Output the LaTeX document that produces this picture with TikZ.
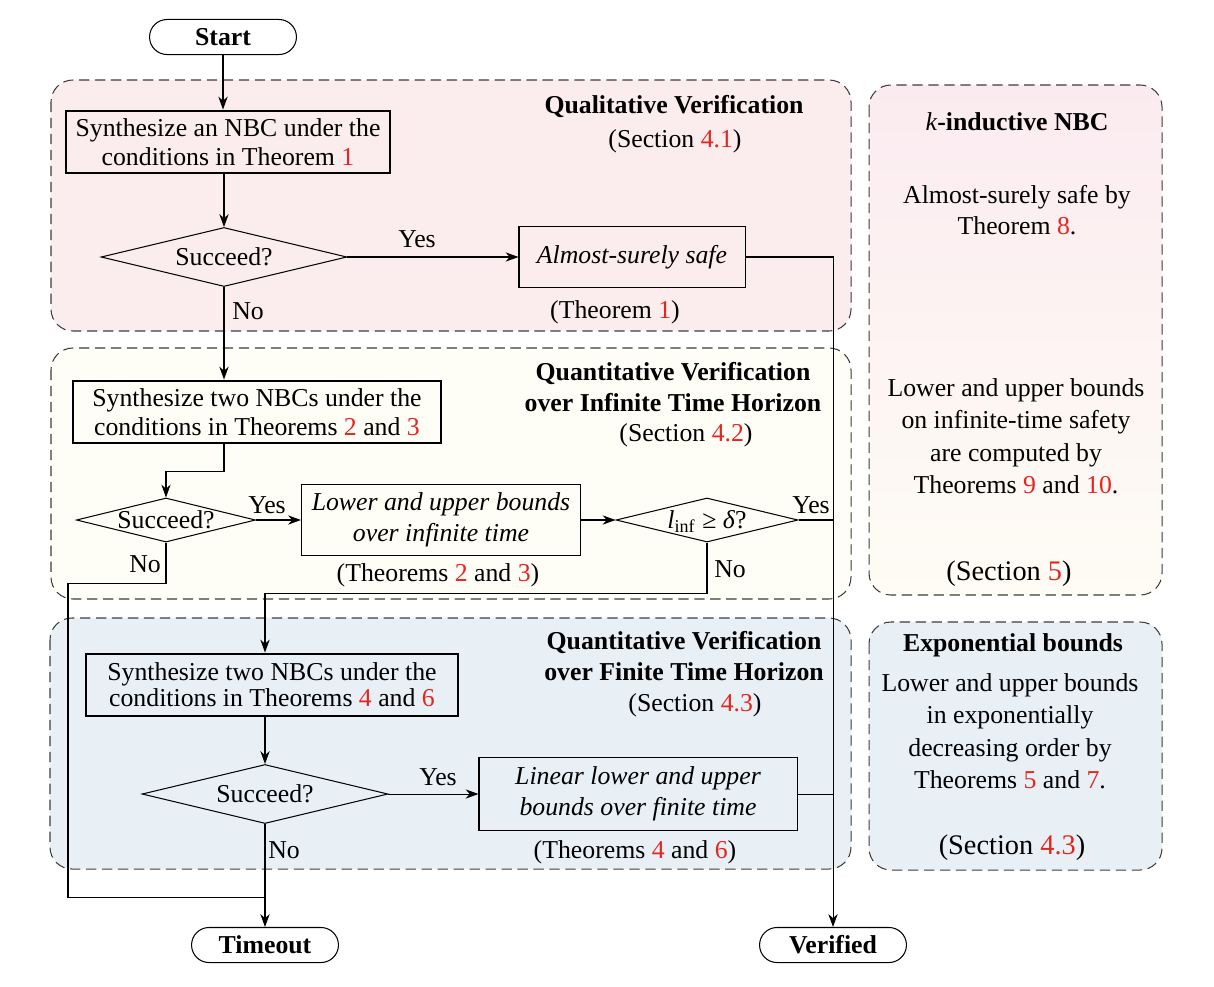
\documentclass[tikz,border=0pt]{standalone}
\usepackage{fontspec}
\setmainfont{Liberation Serif}
\usepackage{xcolor}
\usepackage{tikz}
\usetikzlibrary{shapes,arrows,positioning,calc,arrows.meta}

\definecolor{refred}{RGB}{228,38,33}
\definecolor{qualpink}{RGB}{251,236,238}
\definecolor{infyellow}{RGB}{254,253,246}
\definecolor{finblue}{RGB}{232,240,246}
\definecolor{kpink}{RGB}{251,235,240}
\definecolor{kyellow}{RGB}{254,252,245}
\definecolor{framegray}{RGB}{60,60,60}

\newcommand{\refnum}[1]{\textcolor{refred}{#1}}
\newcommand{\dtext}[1]{\raisebox{-3.3pt}[0pt][0pt]{\makebox[0pt]{#1}}}

\tikzset{
    region/.style={draw=framegray, dash pattern=on 4pt off 2.2pt, rounded corners=8.5pt},
    terminal/.style={draw, rounded corners=6.8pt, minimum width=57pt, minimum height=13.6pt, inner sep=0pt, font=\bfseries},
    synth/.style={draw, thick, align=center, minimum height=24.4pt, inner sep=2pt, font=\fontsize{10}{11.3}\selectfont},
    result/.style={draw, align=center, font=\itshape},
    decision/.style={draw, diamond, inner sep=0pt},
    title/.style={align=center, font=\bfseries},
    flow/.style={-{Stealth[length=5pt,width=3.6pt,inset=1.6pt]}},
}

\begin{document}
\begin{tikzpicture}[x=0.388pt, y=-0.388pt]
    \useasboundingbox (0,0) rectangle (1214,986);

    % Regions
    \draw[region, fill=qualpink] (51,80) rectangle (851,331);
    \draw[region, fill=infyellow] (51,348) rectangle (851,599);
    \draw[region, fill=finblue] (50,618) rectangle (851,869);
    \draw[region, top color=kpink, bottom color=kyellow] (869,85) rectangle (1162,595);
    \draw[region, fill=finblue] (869,622) rectangle (1162,870);

    % Region titles
    \node[title] (qualtitle) at (674,107) {Qualitative Verification};
    \node (qualsec) at (675,141) {(Section \refnum{4.1})};
    \node[title] (inftitle) at (673,387) {Quantitative Verification\\over Infinite Time Horizon};
    \node (infsec) at (686,435) {(Section \refnum{4.2})};
    \node[title] (fintitle) at (684,656) {Quantitative Verification\\over Finite Time Horizon};
    \node (finsec) at (695,705) {(Section \refnum{4.3})};

    % Terminals
    \node[terminal] (start) at (223,37) {Start};
    \node[terminal] (timeout) at (265,945) {Timeout};
    \node[terminal] (verified) at (833,945) {Verified};

    % Qualitative verification
    \node[synth, minimum width=126pt] (synth1) at (228,142) {Synthesize an NBC under the\\conditions in Theorem \refnum{1}};
    \node[decision, minimum width=95.4pt, minimum height=22.9pt] (succ1) at (224,257) {\dtext{Succeed?}};
    \node[result, minimum width=87.7pt, minimum height=23.3pt] (safe) at (632,257) {Almost-surely safe};
    \node (safethm) at (615,312) {(Theorem \refnum{1})};
    \node (yes1) at (417,239) {Yes};
    \node (no1) at (248,311) {No};

    % Infinite time horizon
    \node[synth, minimum width=142.8pt] (synth2) at (257,412) {Synthesize two NBCs under the\\conditions in Theorems \refnum{2} and \refnum{3}};
    \node[decision, minimum width=69.5pt, minimum height=17.1pt] (succ2) at (166,520) {\dtext{Succeed?}};
    \node[result, minimum width=108.3pt, minimum height=27.9pt] (infbox) at (441,520) {Lower and upper bounds\\over infinite time};
    \node (infthm) at (438,575) {(Theorems \refnum{2} and \refnum{3})};
    \node[decision, minimum width=70.6pt, minimum height=17.1pt] (lcheck) at (707,520) {\dtext{\textit{l}\textsubscript{inf} ≥ \textit{δ}?}};
    \node (yes2) at (267,505) {Yes};
    \node (no2) at (145,564) {No};
    \node (yes3) at (811,505) {Yes};
    \node (no3) at (730,569) {No};

    % Finite time horizon
    \node[synth, minimum width=144.3pt, font=\fontsize{10}{10.2}\selectfont] (synth3) at (272,685) {Synthesize two NBCs under the\\conditions in Theorems \refnum{4} and \refnum{6}};
    \node[decision, minimum width=95.4pt, minimum height=22.9pt] (succ3) at (265,794) {\dtext{Succeed?}};
    \node[result, minimum width=123.4pt, minimum height=28.3pt] (finbox) at (638,794) {Linear lower and upper\\bounds over finite time};
    \node (finthm) at (635,852) {(Theorems \refnum{4} and \refnum{6})};
    \node (yes4) at (438,777) {Yes};
    \node (no4) at (284,850) {No};

    % k-inductive column
    \node (ktitle) at (1017,122) {\textit{k}\textbf{-inductive NBC}};
    \node[align=center] (kqual) at (1017,210) {Almost-surely safe by\\Theorem \refnum{8}.};
    \node[align=center, font=\fontsize{10}{12.6}\selectfont] (kinf) at (1016,436) {Lower and upper bounds\\on infinite-time safety\\are computed by\\Theorems \refnum{9} and \refnum{10}.};
    \node[font=\fontsize{11}{13}\selectfont] (ksec) at (1009,574) {(Section \refnum{5})};

    % Exponential column
    \node[title] (exptitle) at (1013,645) {Exponential bounds};
    \node[align=center, font=\fontsize{10}{12.6}\selectfont] (expbody) at (1010,731) {Lower and upper bounds\\in exponentially\\decreasing order by\\Theorems \refnum{5} and \refnum{7}.};
    \node[font=\fontsize{11}{13}\selectfont] (expsec) at (1012,848) {(Section \refnum{4.3})};

    % Connectors
    \coordinate (loopL) at (68,897);
    \draw[flow] (start) -- (start |- synth1.north);
    \draw[flow] (succ1 |- synth1.south) -- (succ1);
    \draw[flow] (succ1) -- (safe);
    \draw[flow] (safe) -- (verified |- safe) -- (verified);
    \draw[flow] (succ1) -- (succ1 |- synth2.north);
    \draw[flow] (succ1 |- synth2.south) -- ++(0,27) -| (succ2);
    \draw[flow] (succ2) -- (infbox);
    \draw[flow] (infbox) -- (lcheck);
    \draw (lcheck) -- (verified |- lcheck);
    \draw[flow] (lcheck.south) -- ++(0,51) -| (succ3 |- synth3.north);
    \draw (succ2.south) -- ++(0,41) -| (loopL) -- (timeout |- loopL);
    \draw[flow] (succ3 |- synth3.south) -- (succ3);
    \draw[flow] (succ3) -- (finbox);
    \draw (finbox) -- (verified |- finbox);
    \draw[flow] (succ3) -- (timeout);
\end{tikzpicture}
\end{document}
